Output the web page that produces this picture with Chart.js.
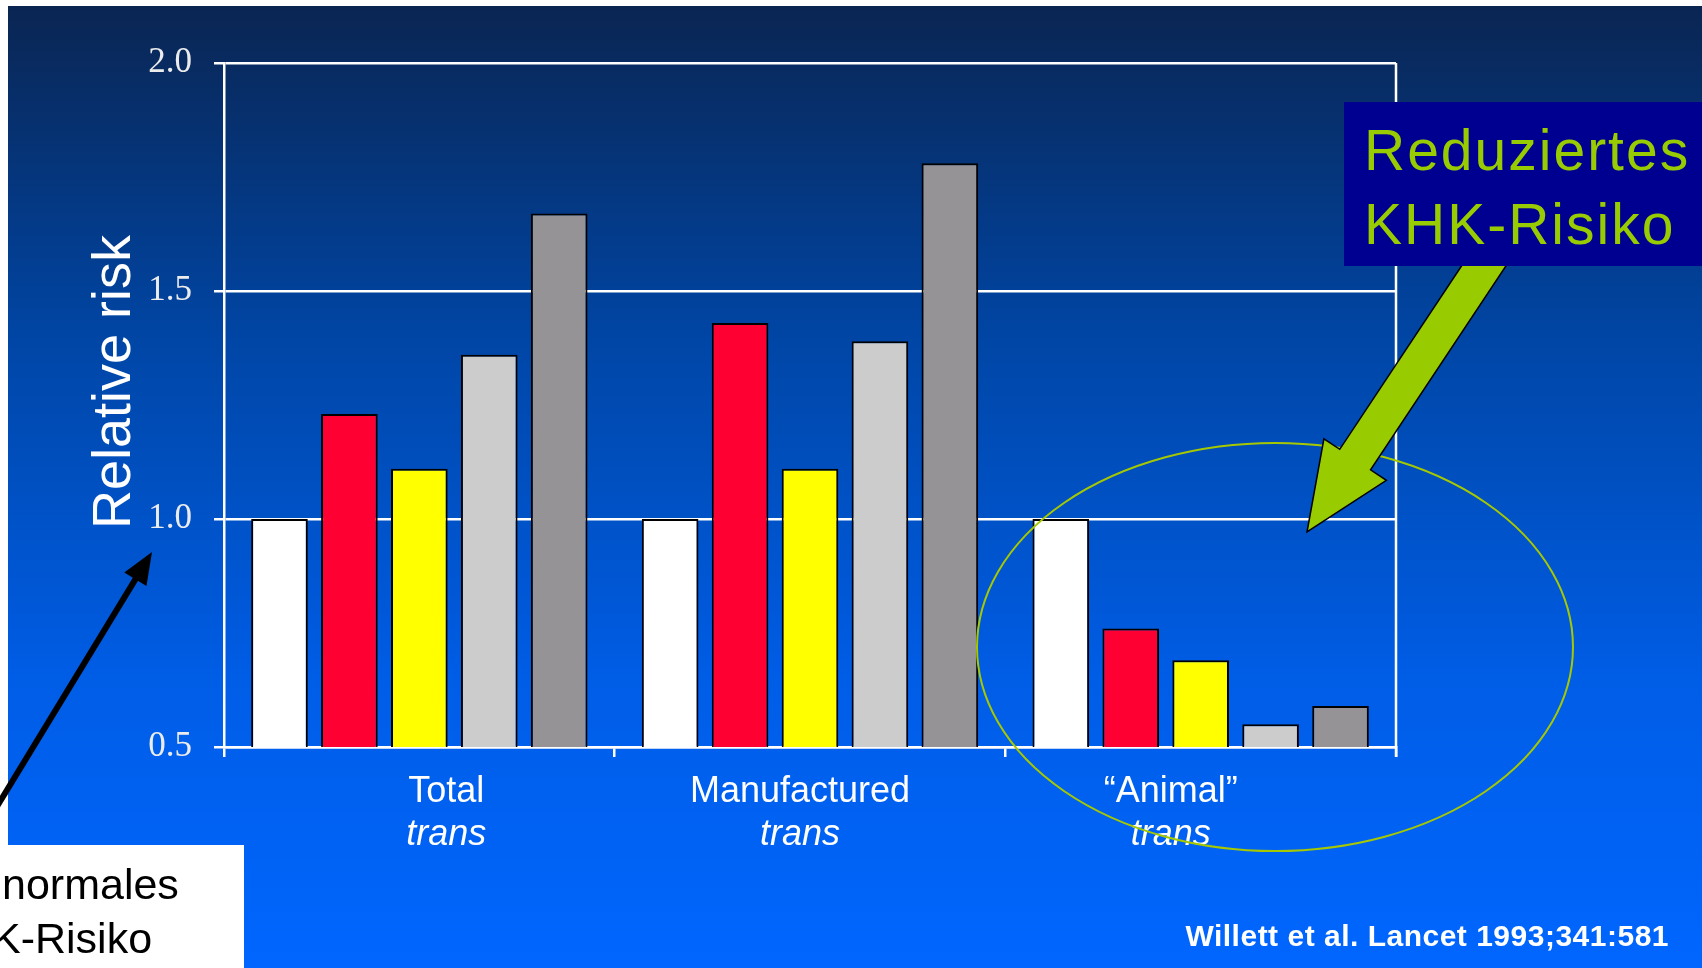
<!DOCTYPE html>
<html>
<head>
<meta charset="utf-8">
<script src="https://cdn.jsdelivr.net/npm/chart.js@4.4.1/dist/chart.umd.min.js"></script>
<style>
  html, body { margin: 0; padding: 0; background: #fff; overflow: hidden; }
  canvas { display: block; }
</style>
</head>
<body>
<canvas id="barchart" width="1702" height="968"></canvas>
<script>
// data
const categories = ['Total', 'Manufactured', '\u201CAnimal\u201D'];
const subLabel = 'trans';
const quintiles = ['Q1', 'Q2', 'Q3', 'Q4', 'Q5'];
const q1 = [1.00, 1.00, 1.00];
const q2 = [1.23, 1.43, 0.76];
const q3 = [1.11, 1.11, 0.69];
const q4 = [1.36, 1.39, 0.55];
const q5 = [1.67, 1.78, 0.59];
const yTicks = [0.5, 1.0, 1.5, 2.0];

const yTitle = 'Relative risk';
const calloutRight = ['Reduziertes', 'KHK-Risiko'];
const calloutLeft = ['normales', 'K-Risiko'];
const citation = 'Willett et al. Lancet 1993;341:581';

const colors = ['#ffffff', '#ff0033', '#ffff00', '#cccccc', '#959396'];
const series = [q1, q2, q3, q4, q5];

// small nudges so the category labels sit where the slide put them
const labelShift = [27, -10, -30];

function arrow(ctx, x1, y1, x2, y2, shaftW, headW, headL) {
  const dx = x2 - x1, dy = y2 - y1;
  const len = Math.hypot(dx, dy);
  const ux = dx / len, uy = dy / len;
  const nx = -uy, ny = ux;
  const bx = x2 - ux * headL, by = y2 - uy * headL;
  ctx.beginPath();
  ctx.moveTo(x1 + nx * shaftW / 2, y1 + ny * shaftW / 2);
  ctx.lineTo(bx + nx * shaftW / 2, by + ny * shaftW / 2);
  ctx.lineTo(bx + nx * headW / 2, by + ny * headW / 2);
  ctx.lineTo(x2, y2);
  ctx.lineTo(bx - nx * headW / 2, by - ny * headW / 2);
  ctx.lineTo(bx - nx * shaftW / 2, by - ny * shaftW / 2);
  ctx.lineTo(x1 - nx * shaftW / 2, y1 - ny * shaftW / 2);
  ctx.closePath();
}

const slide = {
  id: 'slide',
  beforeDraw(chart) {
    const ctx = chart.ctx;
    ctx.save();
    ctx.fillStyle = '#ffffff';
    ctx.fillRect(0, 0, chart.width, chart.height);
    const g = ctx.createLinearGradient(0, 6, 0, chart.height);
    g.addColorStop(0, '#0a2552');
    g.addColorStop(0.35, '#0046a6');
    g.addColorStop(0.7, '#005de6');
    g.addColorStop(1, '#0066ff');
    ctx.fillStyle = g;
    ctx.fillRect(8, 6, chart.width - 8, chart.height - 6);
    ctx.restore();
  },
  afterDraw(chart) {
    const ctx = chart.ctx;
    const area = chart.chartArea;
    const xs = chart.scales.x;
    ctx.save();

    // right frame line
    ctx.strokeStyle = '#ffffff';
    ctx.lineWidth = 2.5;
    ctx.beginPath();
    ctx.moveTo(area.right, area.top);
    ctx.lineTo(area.right, area.bottom + 10);
    ctx.stroke();

    // y title
    ctx.save();
    ctx.translate(130, 382);
    ctx.rotate(-Math.PI / 2);
    ctx.fillStyle = '#ffffff';
    ctx.font = '54px "Liberation Sans", Arial, sans-serif';
    ctx.textAlign = 'center';
    ctx.textBaseline = 'alphabetic';
    ctx.fillText(yTitle, 0, 0);
    ctx.restore();

    // category labels: name + italic "trans"
    ctx.fillStyle = '#ffffff';
    ctx.textAlign = 'center';
    ctx.textBaseline = 'alphabetic';
    categories.forEach((c, i) => {
      const x = xs.getPixelForValue(i) + labelShift[i];
      ctx.font = '36px "Liberation Sans", Arial, sans-serif';
      ctx.fillText(c, x, 802);
      ctx.font = 'italic 36px "Liberation Sans", Arial, sans-serif';
      ctx.fillText(subLabel, x, 845);
    });

    // ellipse round the "Animal" group
    ctx.strokeStyle = '#a6c800';
    ctx.lineWidth = 2;
    ctx.beginPath();
    ctx.ellipse(1275, 647, 298, 204, 0, 0, Math.PI * 2);
    ctx.stroke();

    // green arrow
    arrow(ctx, 1497, 246, 1307, 532, 37, 75, 87);
    ctx.fillStyle = '#99cc00';
    ctx.fill();
    ctx.strokeStyle = '#000000';
    ctx.lineWidth = 1.5;
    ctx.stroke();

    // right callout box
    ctx.fillStyle = '#000090';
    ctx.fillRect(1344, 102, 358, 164);
    ctx.fillStyle = '#99cc00';
    ctx.textAlign = 'left';
    ctx.letterSpacing = '2px';
    ctx.font = '57px "Liberation Sans", Arial, sans-serif';
    ctx.fillText(calloutRight[0], 1364, 170);
    ctx.fillText(calloutRight[1], 1364, 244);
    ctx.letterSpacing = '0px';

    // black arrow
    ctx.strokeStyle = '#000000';
    ctx.fillStyle = '#000000';
    ctx.lineWidth = 6;
    const tx = 152, ty = 552, sx = -10, sy = 818;
    const L = Math.hypot(tx - sx, ty - sy);
    const ux = (tx - sx) / L, uy = (ty - sy) / L;
    ctx.beginPath();
    ctx.moveTo(sx, sy);
    ctx.lineTo(tx - ux * 20, ty - uy * 20);
    ctx.stroke();
    ctx.beginPath();
    ctx.moveTo(tx, ty);
    ctx.lineTo(tx - ux * 32 - uy * 13, ty - uy * 32 + ux * 13);
    ctx.lineTo(tx - ux * 32 + uy * 13, ty - uy * 32 - ux * 13);
    ctx.closePath();
    ctx.fill();

    // left callout box (cut off by slide edge)
    ctx.fillStyle = '#ffffff';
    ctx.fillRect(0, 845, 244, 123);
    ctx.fillStyle = '#000000';
    ctx.font = '43px "Liberation Sans", Arial, sans-serif';
    ctx.fillText(calloutLeft[0], 2, 899);
    ctx.fillText(calloutLeft[1], -8, 953);

    // citation
    ctx.fillStyle = '#ffffff';
    ctx.textAlign = 'right';
    ctx.letterSpacing = '0.5px';
    ctx.font = 'bold 30px "Liberation Sans", Arial, sans-serif';
    ctx.fillText(citation, 1669, 946);
    ctx.letterSpacing = '0px';

    ctx.restore();
  }
};

new Chart(document.getElementById('barchart'), {
  type: 'bar',
  data: {
    labels: categories,
    datasets: quintiles.map((q, i) => ({
      label: q,
      data: series[i],
      backgroundColor: colors[i],
      borderColor: '#000000',
      borderWidth: 2,
      borderSkipped: false,
      barPercentage: 0.81,
      categoryPercentage: 0.895
    }))
  },
  options: {
    responsive: false,
    animation: false,
    layout: { padding: { left: 0, right: 306, top: 63, bottom: 0 } },
    plugins: {
      legend: { display: false },
      tooltip: { enabled: false }
    },
    scales: {
      x: {
        afterFit(scale) { scale.height = 221; },
        ticks: { display: false },
        grid: {
          offset: true,
          drawOnChartArea: false,
          color: '#ffffff',
          lineWidth: 2.5,
          tickLength: 10
        },
        border: { color: '#ffffff', width: 2.5 }
      },
      y: {
        min: yTicks[0],
        max: yTicks[yTicks.length - 1],
        afterFit(scale) { scale.width = 224; },
        ticks: {
          stepSize: 0.5,
          padding: 22,
          color: '#ececec',
          font: { family: '"Liberation Serif", "Times New Roman", serif', size: 35 },
          callback: v => v.toFixed(1)
        },
        grid: { color: '#ffffff', lineWidth: 2.5, tickLength: 10 },
        border: { color: '#ffffff', width: 2.5 }
      }
    }
  },
  plugins: [slide]
});
</script>
</body>
</html>
